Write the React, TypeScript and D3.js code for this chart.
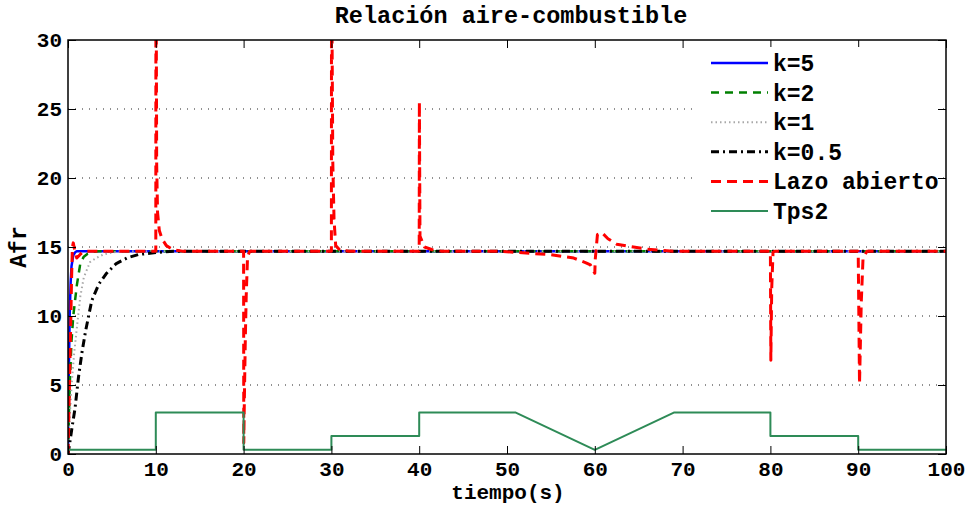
import { useEffect, useRef } from "react";
import * as d3 from "d3";

// time axis ticks / afr ticks
const timeTicks = [0, 10, 20, 30, 40, 50, 60, 70, 80, 90, 100];
const afrTicks = [0, 5, 10, 15, 20, 25, 30];
const gridTicks = [5, 10, 15, 20, 25];

// k=5
const k5Time = [0, 0.05, 0.1, 0.2, 0.3, 0.4, 0.6, 0.8, 1.0, 100];
const k5Afr = [0, 3.5, 6.3, 10.2, 12.4, 13.6, 14.4, 14.6, 14.7, 14.7];

// k=2
const k2Time = [0, 0.1, 0.2, 0.4, 0.6, 0.8, 1.0, 1.4, 1.8, 2.2, 2.8, 3.5, 100];
const k2Afr = [0, 2.7, 5.0, 8.2, 10.0, 11.1, 12.2, 13.8, 14.3, 14.5, 14.65, 14.7, 14.7];

// k=1
const k1Time = [0, 0.2, 0.4, 0.7, 1.0, 1.4, 1.8, 2.5, 3.2, 4, 5, 6, 100];
const k1Afr = [0, 2.7, 4.9, 7.3, 9.1, 11.4, 12.8, 13.9, 14.2, 14.45, 14.6, 14.7, 14.7];

// k=0.5
const k05Time = [0, 0.2, 0.5, 0.8, 1.2, 1.6, 2.0, 2.7, 3.5, 4.4, 5.5, 6.7, 8, 10, 12, 100];
const k05Afr = [0, 0.8, 2.1, 3.3, 5.6, 7.4, 8.9, 11.1, 12.3, 13.1, 13.8, 14.2, 14.45, 14.6, 14.7, 14.7];

// lazo abierto
const openTime = [
  0, 0.1, 0.2, 0.3, 0.4, 0.5, 0.6, 0.75, 1.0, 1.3, 1.6, 2.2,
  10, 10.02, 10.06, 10.1, 10.2, 10.4, 10.7, 11.2, 12, 13,
  20, 20.02, 20.1, 20.2, 20.3, 20.45, 20.7,
  30, 30.02, 30.05, 30.16, 30.3, 30.49, 31, 32,
  40, 40.02, 40.09, 40.4, 40.6, 41.5, 42.5,
  49, 52.6, 54.9, 57.6, 59.0, 59.5, 60.0, 60.05, 60.3, 60.8, 61.5, 62.5, 64.4, 65.9, 68.9,
  80, 80.05, 80.15, 80.3, 80.5,
  90, 90.15, 90.35, 90.55, 91, 100,
];
const openAfr = [
  0, 3, 6, 9, 12.5, 15.0, 15.3, 14.8, 14.2, 14.4, 14.6, 14.7,
  14.7, 45, 30, 21, 17.5, 16.2, 15.6, 15.1, 14.8, 14.7,
  14.7, 0.8, 4.5, 8.5, 11.5, 14.3, 14.7,
  14.7, 45, 33, 21.1, 17.0, 15.1, 14.75, 14.7,
  14.7, 25.5, 15.8, 15.3, 15.0, 14.8, 14.7,
  14.7, 14.54, 14.45, 14.2, 13.85, 13.7, 13.1, 14.1, 15.9, 16.05, 15.6, 15.2, 15.0, 14.85, 14.7,
  14.7, 6.8, 12, 14.6, 14.7,
  14.7, 5.1, 11, 14.2, 14.7, 14.7,
];

// Tps2
const tpsTime = [0, 10, 10, 20, 20, 30, 30, 40, 40, 51, 60, 69, 80, 80, 90, 90, 100];
const tpsAfr = [0.3, 0.3, 3, 3, 0.3, 0.3, 1.3, 1.3, 3, 3, 0.3, 3, 3, 1.3, 1.3, 0.3, 0.3];

const seriesNames = ["k=5", "k=2", "k=1", "k=0.5", "Lazo abierto", "Tps2"];

const FONT = "'Liberation Mono', 'DejaVu Sans Mono', monospace";

export default function App() {
  const svgRef = useRef<SVGSVGElement | null>(null);

  useEffect(() => {
    const width = 969;
    const height = 506;
    const margin = { top: 40, right: 23, bottom: 52, left: 68 };
    const x0 = margin.left;
    const x1 = width - margin.right;
    const y0 = height - margin.bottom;
    const y1 = margin.top;

    const svg = d3.select(svgRef.current);
    svg.selectAll("*").remove();

    const x = d3.scaleLinear().domain([0, 100]).range([x0, x1]);
    const y = d3.scaleLinear().domain([0, 30]).range([y0, y1]);

    svg.append("rect").attr("width", width).attr("height", height).attr("fill", "#fff");

    svg
      .append("defs")
      .append("clipPath")
      .attr("id", "plot-clip")
      .append("rect")
      .attr("x", x0)
      .attr("y", y1)
      .attr("width", x1 - x0)
      .attr("height", y0 - y1);

    // dotted grid
    svg
      .append("g")
      .selectAll("line")
      .data(gridTicks)
      .join("line")
      .attr("x1", x0)
      .attr("x2", x1)
      .attr("y1", (d) => y(d))
      .attr("y2", (d) => y(d))
      .attr("stroke", "#222")
      .attr("stroke-width", 1)
      .attr("stroke-dasharray", "1,6");

    const styles = [
      { color: "#0000ff", width: 2.5, dash: null },
      { color: "#008000", width: 2.5, dash: "8,6" },
      { color: "#a8a8a8", width: 2, dash: "1.5,3" },
      { color: "#000000", width: 3, dash: "8,4,2,4" },
      { color: "#ff0000", width: 3, dash: "10,6" },
      { color: "#2e8b57", width: 2, dash: null },
    ];

    const seriesData = [
      [k5Time, k5Afr],
      [k2Time, k2Afr],
      [k1Time, k1Afr],
      [k05Time, k05Afr],
      [openTime, openAfr],
      [tpsTime, tpsAfr],
    ].map(([t, v]) => t.map((d, i) => [d, v[i]] as [number, number]));

    const line = d3
      .line<[number, number]>()
      .x((d) => x(d[0]))
      .y((d) => y(d[1]));

    const plot = svg.append("g").attr("clip-path", "url(#plot-clip)");
    seriesData.forEach((pts, i) => {
      const s = styles[i];
      plot
        .append("path")
        .datum(pts)
        .attr("fill", "none")
        .attr("stroke", s.color)
        .attr("stroke-width", s.width)
        .attr("stroke-dasharray", s.dash)
        .attr("stroke-linejoin", "round")
        .attr("d", line);
    });

    // axes, ticks inside
    const bottom = svg
      .append("g")
      .attr("transform", `translate(0,${y0})`)
      .call(d3.axisBottom(x).tickValues(timeTicks).tickSizeInner(-8).tickSizeOuter(0).tickPadding(7));
    const left = svg
      .append("g")
      .attr("transform", `translate(${x0},0)`)
      .call(d3.axisLeft(y).tickValues(afrTicks).tickSizeInner(-8).tickSizeOuter(0).tickPadding(6));
    svg
      .append("g")
      .attr("transform", `translate(0,${y1})`)
      .call(d3.axisTop(x).tickValues(timeTicks).tickSizeInner(-8).tickSizeOuter(0).tickFormat(() => ""));
    svg
      .append("g")
      .attr("transform", `translate(${x1},0)`)
      .call(d3.axisRight(y).tickValues(afrTicks).tickSizeInner(-8).tickSizeOuter(0).tickFormat(() => ""));

    svg.selectAll(".domain").remove();
    svg.selectAll(".tick line").attr("stroke", "#000").attr("stroke-width", 1);
    [bottom, left].forEach((g) =>
      g
        .selectAll("text")
        .attr("font-family", FONT)
        .attr("font-weight", "bold")
        .attr("font-size", 21)
        .attr("fill", "#000")
    );

    svg
      .append("rect")
      .attr("x", x0)
      .attr("y", y1)
      .attr("width", x1 - x0)
      .attr("height", y0 - y1)
      .attr("fill", "none")
      .attr("stroke", "#000")
      .attr("stroke-width", 1.5);

    // legend
    const lg = svg.append("g");
    lg.append("rect")
      .attr("x", 698)
      .attr("y", 47)
      .attr("width", 240)
      .attr("height", 180)
      .attr("fill", "#fff");
    seriesNames.forEach((name, i) => {
      const s = styles[i];
      const ly = 63 + i * 29.6;
      lg.append("line")
        .attr("x1", 711)
        .attr("x2", 768)
        .attr("y1", ly)
        .attr("y2", ly)
        .attr("stroke", s.color)
        .attr("stroke-width", s.width)
        .attr("stroke-dasharray", s.dash);
      lg.append("text")
        .attr("x", 773)
        .attr("y", ly)
        .attr("dy", "0.35em")
        .attr("font-family", FONT)
        .attr("font-weight", "bold")
        .attr("font-size", 23)
        .text(name);
    });

    // titles
    svg
      .append("text")
      .attr("x", (x0 + x1) / 2 + 4)
      .attr("y", 23)
      .attr("text-anchor", "middle")
      .attr("font-family", FONT)
      .attr("font-weight", "bold")
      .attr("font-size", 23.5)
      .text("Relación aire-combustible");
    svg
      .append("text")
      .attr("x", (x0 + x1) / 2 + 1)
      .attr("y", 499)
      .attr("text-anchor", "middle")
      .attr("font-family", FONT)
      .attr("font-weight", "bold")
      .attr("font-size", 21)
      .text("tiempo(s)");
    svg
      .append("text")
      .attr("transform", `translate(26,247) rotate(-90)`)
      .attr("text-anchor", "middle")
      .attr("font-family", FONT)
      .attr("font-weight", "bold")
      .attr("font-size", 23)
      .text("Afr");
  }, []);

  return (
    <svg
      ref={svgRef}
      width={969}
      height={506}
      style={{ position: "absolute", left: 0, top: 0, display: "block" }}
    />
  );
}
